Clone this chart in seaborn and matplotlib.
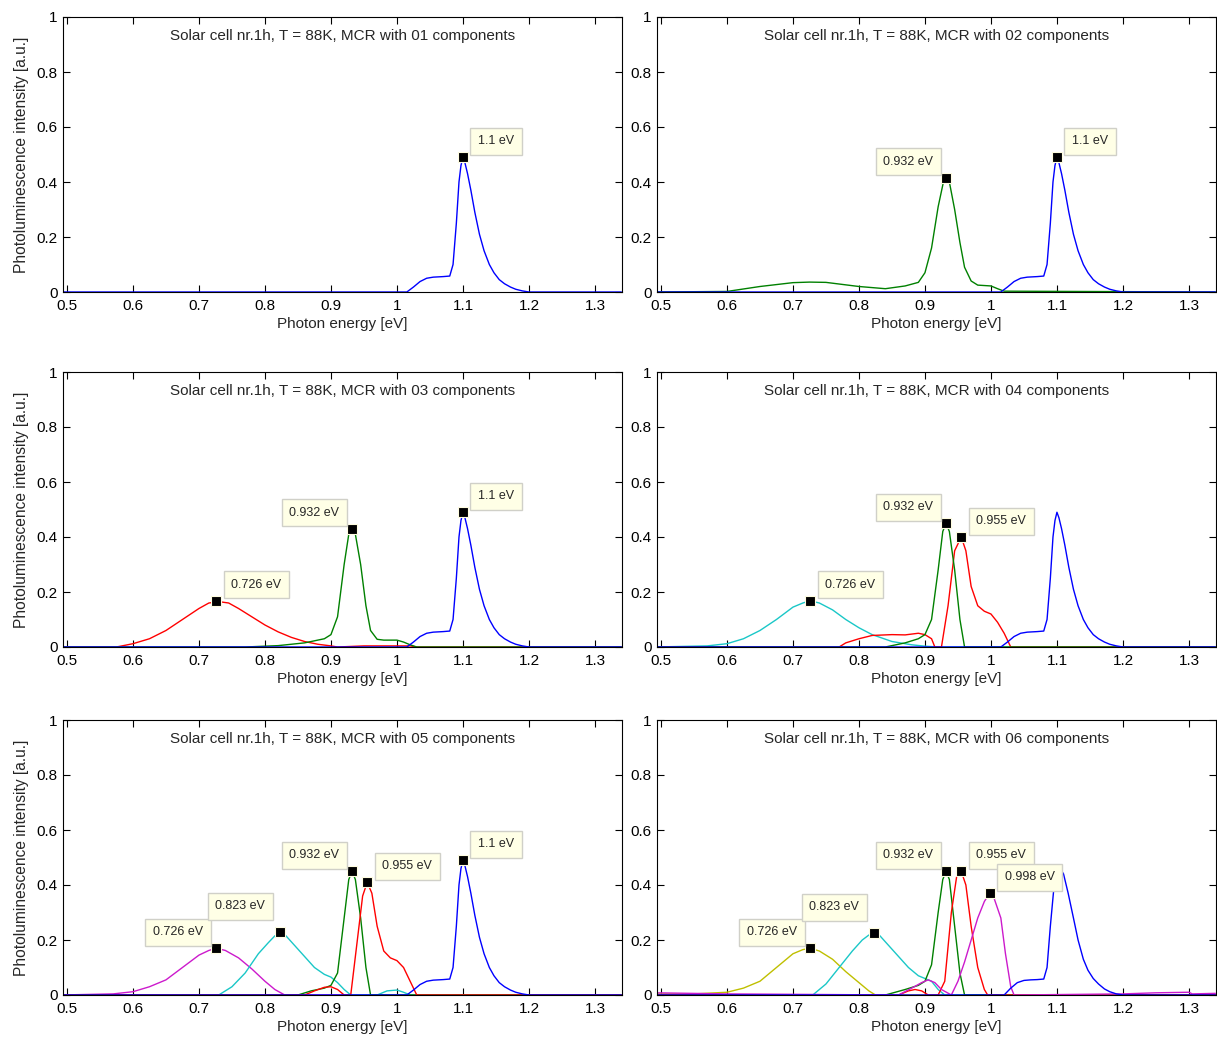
import numpy as np
import pandas as pd
import matplotlib
matplotlib.use("Agg")
import matplotlib.pyplot as plt
import seaborn as sns

sns.set_style("white")
plt.rcParams['font.family'] = ['Liberation Sans', 'DejaVu Sans']

# ---------------- data ----------------
x_ticks = [0.5, 0.6, 0.7, 0.8, 0.9, 1.0, 1.1, 1.2, 1.3]
x_ticklabels = ["0.5", "0.6", "0.7", "0.8", "0.9", "1", "1.1", "1.2", "1.3"]
y_ticks = [0, 0.2, 0.4, 0.6, 0.8, 1.0]
y_ticklabels = ["0", "0.2", "0.4", "0.6", "0.8", "1"]

titles = ["Solar cell nr.1h, T = 88K, MCR with 01 components",
          "Solar cell nr.1h, T = 88K, MCR with 02 components",
          "Solar cell nr.1h, T = 88K, MCR with 03 components",
          "Solar cell nr.1h, T = 88K, MCR with 04 components",
          "Solar cell nr.1h, T = 88K, MCR with 05 components",
          "Solar cell nr.1h, T = 88K, MCR with 06 components"]

# blue 1.1 eV component (panels 1-5)
blue_x = [0.49, 1.0, 1.015, 1.025, 1.035, 1.045, 1.055, 1.07, 1.08, 1.085, 1.09, 1.094, 1.097, 1.1, 1.103, 1.107, 1.112, 1.118, 1.125, 1.132, 1.14, 1.147, 1.155, 1.163, 1.172, 1.18, 1.19, 1.2, 1.34]
blue_y = [0.0, 0.0, 0.0, 0.018, 0.038, 0.05, 0.054, 0.056, 0.058, 0.1, 0.25, 0.4, 0.46, 0.49, 0.47, 0.43, 0.37, 0.29, 0.21, 0.15, 0.1, 0.07, 0.045, 0.03, 0.018, 0.01, 0.004, 0.0, 0.0]
# blue in panel 6
blue6_x = [0.49, 1.0, 1.02, 1.03, 1.04, 1.05, 1.06, 1.07, 1.08, 1.085, 1.09, 1.095, 1.1, 1.105, 1.11, 1.117, 1.125, 1.132, 1.14, 1.147, 1.155, 1.163, 1.172, 1.18, 1.19, 1.2, 1.34]
blue6_y = [0.0, 0.0, 0.0, 0.025, 0.045, 0.053, 0.055, 0.056, 0.058, 0.1, 0.25, 0.38, 0.44, 0.46, 0.44, 0.37, 0.28, 0.2, 0.13, 0.09, 0.06, 0.04, 0.022, 0.012, 0.004, 0.0, 0.0]

# panel 2 green
p2g_x = [0.49, 0.6, 0.65, 0.7, 0.725, 0.75, 0.8, 0.84, 0.87, 0.89, 0.9, 0.91, 0.92, 0.928, 0.932, 0.937, 0.945, 0.953, 0.96, 0.97, 0.98, 1.0, 1.01, 1.02, 1.34]
p2g_y = [0.0, 0.002, 0.02, 0.034, 0.036, 0.035, 0.02, 0.012, 0.022, 0.035, 0.07, 0.16, 0.31, 0.40, 0.415, 0.40, 0.30, 0.18, 0.09, 0.04, 0.025, 0.022, 0.012, 0.003, 0.0]

# panel 3
p3r_x = [0.49, 0.575, 0.6, 0.625, 0.65, 0.675, 0.7, 0.715, 0.73, 0.745, 0.76, 0.78, 0.8, 0.82, 0.84, 0.86, 0.88, 0.9, 0.91, 0.95, 1.02, 1.03, 1.34]
p3r_y = [0.0, 0.0, 0.012, 0.03, 0.06, 0.1, 0.14, 0.16, 0.165, 0.16, 0.14, 0.11, 0.08, 0.055, 0.035, 0.02, 0.01, 0.004, 0.0, 0.004, 0.004, 0.0, 0.0]
p3g_x = [0.49, 0.77, 0.82, 0.86, 0.89, 0.9, 0.91, 0.92, 0.927, 0.932, 0.937, 0.945, 0.953, 0.96, 0.97, 0.98, 1.0, 1.01, 1.02, 1.03, 1.34]
p3g_y = [0.0, 0.0, 0.005, 0.015, 0.03, 0.045, 0.11, 0.3, 0.41, 0.43, 0.41, 0.3, 0.15, 0.06, 0.028, 0.025, 0.025, 0.018, 0.008, 0.0, 0.0]

# panel 4
p4c_x = [0.49, 0.57, 0.6, 0.625, 0.65, 0.675, 0.7, 0.715, 0.726, 0.74, 0.76, 0.78, 0.8, 0.82, 0.85, 0.88, 0.9, 0.92, 1.34]
p4c_y = [0.0, 0.004, 0.012, 0.03, 0.06, 0.1, 0.145, 0.16, 0.168, 0.16, 0.135, 0.1, 0.07, 0.045, 0.02, 0.008, 0.003, 0.0, 0.0]
p4r_x = [0.49, 0.77, 0.78, 0.8, 0.82, 0.85, 0.87, 0.89, 0.9, 0.91, 0.915, 0.925, 0.935, 0.945, 0.955, 0.962, 0.97, 0.98, 0.99, 1.0, 1.01, 1.02, 1.03, 1.34]
p4r_y = [0.0, 0.0, 0.015, 0.03, 0.042, 0.045, 0.044, 0.05, 0.045, 0.03, 0.0, 0.0, 0.15, 0.35, 0.40, 0.35, 0.22, 0.15, 0.13, 0.12, 0.09, 0.05, 0.0, 0.0]
p4g_x = [0.49, 0.84, 0.87, 0.89, 0.9, 0.91, 0.92, 0.927, 0.932, 0.937, 0.945, 0.953, 0.96, 1.34]
p4g_y = [0.0, 0.0, 0.015, 0.03, 0.045, 0.1, 0.28, 0.42, 0.45, 0.42, 0.28, 0.1, 0.0, 0.0]

# panel 5
p5m_x = [0.49, 0.57, 0.6, 0.625, 0.65, 0.675, 0.7, 0.715, 0.726, 0.74, 0.76, 0.78, 0.8, 0.815, 0.83, 1.34]
p5m_y = [0.0, 0.004, 0.012, 0.03, 0.055, 0.1, 0.145, 0.162, 0.17, 0.162, 0.135, 0.095, 0.05, 0.02, 0.0, 0.0]
p5c_x = [0.49, 0.73, 0.75, 0.77, 0.79, 0.805, 0.815, 0.823, 0.83, 0.845, 0.86, 0.875, 0.89, 0.9, 0.91, 0.92, 0.93, 0.97, 0.985, 1.0, 1.01, 1.02, 1.34]
p5c_y = [0.0, 0.0, 0.03, 0.08, 0.15, 0.19, 0.215, 0.228, 0.22, 0.18, 0.14, 0.1, 0.075, 0.065, 0.045, 0.02, 0.0, 0.0, 0.015, 0.018, 0.01, 0.0, 0.0]
p5g_x = [0.49, 0.85, 0.87, 0.89, 0.9, 0.91, 0.92, 0.927, 0.932, 0.937, 0.945, 0.953, 0.96, 1.34]
p5g_y = [0.0, 0.0, 0.015, 0.025, 0.035, 0.08, 0.28, 0.42, 0.45, 0.42, 0.28, 0.1, 0.0, 0.0]
p5r_x = [0.49, 0.86, 0.875, 0.89, 0.9, 0.91, 0.92, 0.93, 0.94, 0.948, 0.955, 0.962, 0.97, 0.98, 0.99, 1.0, 1.01, 1.02, 1.03, 1.34]
p5r_y = [0.0, 0.0, 0.015, 0.028, 0.03, 0.02, 0.0, 0.0, 0.2, 0.36, 0.41, 0.37, 0.25, 0.16, 0.135, 0.125, 0.1, 0.05, 0.0, 0.0]

# panel 6
p6y_x = [0.49, 0.55, 0.6, 0.625, 0.65, 0.675, 0.7, 0.715, 0.726, 0.74, 0.76, 0.78, 0.8, 0.815, 0.825, 1.34]
p6y_y = [0.004, 0.004, 0.01, 0.025, 0.05, 0.1, 0.15, 0.165, 0.17, 0.16, 0.13, 0.085, 0.045, 0.015, 0.0, 0.0]
p6c_x = [0.49, 0.73, 0.75, 0.77, 0.79, 0.805, 0.815, 0.823, 0.83, 0.845, 0.86, 0.875, 0.89, 0.9, 0.91, 0.92, 0.93, 1.34]
p6c_y = [0.0, 0.0, 0.04, 0.1, 0.16, 0.2, 0.218, 0.225, 0.22, 0.18, 0.14, 0.1, 0.07, 0.06, 0.05, 0.02, 0.0, 0.0]
p6g_x = [0.49, 0.84, 0.87, 0.89, 0.9, 0.91, 0.92, 0.927, 0.932, 0.937, 0.945, 0.953, 0.96, 1.34]
p6g_y = [0.0, 0.0, 0.02, 0.035, 0.05, 0.11, 0.3, 0.42, 0.45, 0.42, 0.25, 0.08, 0.0, 0.0]
p6r_x = [0.49, 0.86, 0.875, 0.885, 0.895, 0.905, 0.92, 0.93, 0.94, 0.948, 0.955, 0.962, 0.97, 0.98, 0.99, 0.995, 1.34]
p6r_y = [0.0, 0.0, 0.015, 0.02, 0.015, 0.0, 0.0, 0.05, 0.3, 0.43, 0.45, 0.4, 0.25, 0.1, 0.02, 0.0, 0.0]
p6m_x = [0.49, 0.6, 0.86, 0.88, 0.895, 0.905, 0.915, 0.925, 0.94, 0.95, 0.96, 0.97, 0.98, 0.99, 0.998, 1.005, 1.015, 1.022, 1.03, 1.035, 1.2, 1.25, 1.3, 1.305, 1.34]
p6m_y = [0.008, 0.004, 0.0, 0.025, 0.045, 0.055, 0.045, 0.02, 0.0, 0.05, 0.12, 0.2, 0.28, 0.34, 0.37, 0.35, 0.28, 0.15, 0.03, 0.0, 0.004, 0.008, 0.01, 0.004, 0.006]

C_B = (0.0, 0.0, 1.0)
C_G = (0.0, 0.5, 0.0)
C_R = (1.0, 0.0, 0.0)
C_C = (0.1, 0.78, 0.78)
C_M = (0.8, 0.1, 0.8)
C_Y = (0.75, 0.75, 0.0)

panels = [
    [(blue_x, blue_y, C_B)],
    [(p2g_x, p2g_y, C_G), (blue_x, blue_y, C_B)],
    [(p3r_x, p3r_y, C_R), (p3g_x, p3g_y, C_G), (blue_x, blue_y, C_B)],
    [(p4c_x, p4c_y, C_C), (p4r_x, p4r_y, C_R), (p4g_x, p4g_y, C_G), (blue_x, blue_y, C_B)],
    [(p5m_x, p5m_y, C_M), (p5c_x, p5c_y, C_C), (p5g_x, p5g_y, C_G), (p5r_x, p5r_y, C_R), (blue_x, blue_y, C_B)],
    [(p6y_x, p6y_y, C_Y), (p6c_x, p6c_y, C_C), (p6g_x, p6g_y, C_G), (p6r_x, p6r_y, C_R), (p6m_x, p6m_y, C_M), (blue6_x, blue6_y, C_B)],
]

# data tips: (x, y, label, side)
tips = [
    [(1.1, 0.49, "1.1 eV", "r")],
    [(0.932, 0.415, "0.932 eV", "l"), (1.1, 0.49, "1.1 eV", "r")],
    [(0.726, 0.168, "0.726 eV", "r"), (0.932, 0.43, "0.932 eV", "l"), (1.1, 0.49, "1.1 eV", "r")],
    [(0.726, 0.168, "0.726 eV", "r"), (0.932, 0.45, "0.932 eV", "l"), (0.955, 0.40, "0.955 eV", "r")],
    [(0.726, 0.17, "0.726 eV", "l"), (0.823, 0.228, "0.823 eV", "l2"), (0.932, 0.45, "0.932 eV", "l"),
     (0.955, 0.41, "0.955 eV", "r"), (1.1, 0.49, "1.1 eV", "r")],
    [(0.726, 0.17, "0.726 eV", "l"), (0.823, 0.225, "0.823 eV", "l2"), (0.932, 0.45, "0.932 eV", "l"),
     (0.955, 0.45, "0.955 eV", "r"), (0.998, 0.37, "0.998 eV", "r")],
]

# ---------------- layout ----------------
W, H = 1217, 1039
fig = plt.figure(figsize=(W / 100, H / 100), dpi=100)
lefts = [63, 657]
tops = [17, 372, 720]
aw, ah = 559, 275

for i in range(6):
    r, c = divmod(i, 2)
    x0 = lefts[c]
    y0 = tops[r]
    ax = fig.add_axes([x0 / W, 1 - (y0 + ah) / H, aw / W, ah / H])
    for (xs, ys, col) in panels[i]:
        sns.lineplot(x=xs, y=ys, color=col, lw=1.0, ax=ax, sort=False, estimator=None)
    for (tx, ty, lab, side) in tips[i]:
        ax.plot([tx], [ty], marker='s', ms=7.5, color='black', mec='#fffde0', mew=0.8, zorder=5)
        if side == "r":
            off, ha = (15, 10), 'left'
        elif side == "l":
            off, ha = (-13, 10), 'right'
        else:
            off, ha = (-15, 20), 'right'
        ax.annotate(lab, (tx, ty), xytext=off, textcoords='offset pixels', ha=ha, va='bottom',
                    fontsize=9, zorder=6,
                    bbox=dict(boxstyle='square,pad=0.6', fc='#ffffe6', ec='#d0d0c8', lw=1))
    ax.set_xlim(0.494, 1.341)
    ax.set_ylim(0, 1)
    ax.set_xticks(x_ticks)
    ax.set_xticklabels(x_ticklabels)
    ax.set_yticks(y_ticks)
    ax.set_yticklabels(y_ticklabels)
    ax.tick_params(direction='in', length=5, width=0.8, labelsize=11, top=True, right=True,
                   bottom=True, left=True, colors='black')
    ax.tick_params(axis='x', pad=5)
    ax.tick_params(axis='y', pad=4)
    for s in ax.spines.values():
        s.set_color('black')
        s.set_linewidth(0.8)
    ax.set_xlabel("Photon energy [eV]", fontsize=11, labelpad=3)
    if c == 0:
        ax.set_ylabel("Photoluminescence intensity [a.u.]", fontsize=11.2, labelpad=5)
    else:
        ax.set_ylabel("")
    ax.text(0.5, 0.932, titles[i], transform=ax.transAxes, ha='center', va='center', fontsize=11)

fig.savefig("out.png", dpi=100)
